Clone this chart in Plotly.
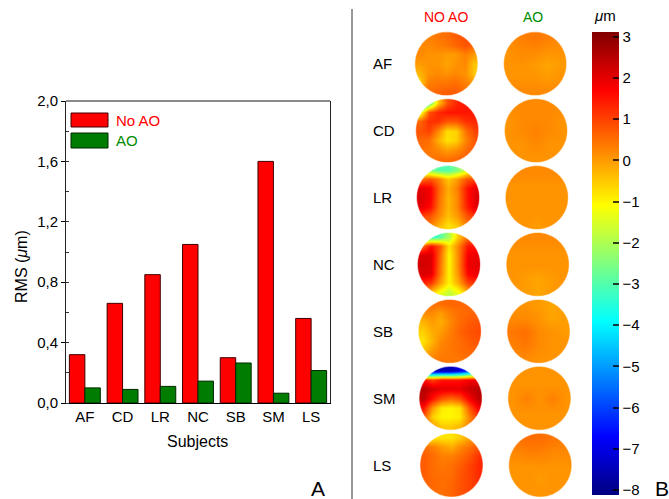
import numpy as np
import plotly.graph_objects as go

W, H = 669, 499

# ---- panel A: RMS of the wavefront error per subject ----
subjects = ["AF", "CD", "LR", "NC", "SB", "SM", "LS"]
rms_no_ao = [0.32, 0.66, 0.85, 1.05, 0.30, 1.60, 0.56]
rms_ao = [0.10, 0.09, 0.11, 0.145, 0.265, 0.065, 0.215]
rms_ticks = [0.0, 0.4, 0.8, 1.2, 1.6, 2.0]

# ---- panel B: wavefront maps (µm), coarse grids, top row first ----
wf_no_ao = {
    "AF": [[0.3, 0.3, 0.4, 0.5, 0.7, 0.8, 0.8],
           [0.2, 0.2, 0.3, 0.4, 0.6, 0.8, 0.6],
           [0.2, 0.1, 0.1, 0.0, 0.0, 0.3, 0.0],
           [0.0, 0.1, 0.1, -0.1, 0.1, 0.2, -0.5],
           [-0.3, 0.1, 0.2, 0.1, 0.2, 0.1, -0.5],
           [-0.6, 0.3, 0.4, 0.4, 0.5, 0.3, 0.0],
           [0.3, 0.5, 0.6, 0.7, 0.7, 0.5, 0.3]],
    "CD": [[-5.0, -3.0, -0.5, 0.8, 1.3, 1.5, 1.5],
           [-1.5, 0.8, 1.3, 1.5, 1.5, 1.5, 1.5],
           [0.6, 1.2, 1.2, 0.8, 0.8, 1.2, 1.3],
           [0.8, 1.0, 0.2, -0.7, -0.6, 0.5, 1.0],
           [0.6, 0.5, -0.2, -0.8, -0.6, 0.3, 0.8],
           [0.5, 0.4, 0.2, -0.1, 0.1, 0.5, 0.8],
           [0.4, 0.4, 0.5, 0.5, 0.6, 0.7, 0.7]],
    "LR": [[-2.0, -2.5, -3.0, -3.0, -2.5, -1.5, -0.5],
           [0.5, 0.8, 0.3, -0.5, 0.0, 0.8, 1.0],
           [2.0, 1.8, 0.6, -0.2, 0.3, 1.5, 2.0],
           [2.1, 1.8, 0.5, -0.3, 0.2, 1.5, 2.1],
           [2.0, 1.6, 0.4, -0.3, 0.2, 1.4, 2.0],
           [1.0, 0.8, 0.2, -0.4, 0.0, 0.8, 1.2],
           [0.3, 0.3, -0.3, -0.8, -0.5, 0.3, 0.5]],
    "NC": [[-3.5, -3.5, -3.0, -2.0, -0.5, 0.5, 0.5],
           [0.5, 1.6, 0.8, -0.8, 0.2, 1.5, 1.5],
           [2.1, 2.1, 0.6, -1.0, 0.2, 1.8, 1.9],
           [2.2, 2.1, 0.5, -1.0, 0.2, 1.9, 2.0],
           [2.1, 2.0, 0.4, -1.0, 0.1, 1.7, 1.9],
           [1.4, 1.1, 0.0, -1.0, -0.2, 1.0, 1.2],
           [0.0, -0.5, -1.3, -1.8, -1.3, -0.3, 0.0]],
    "SB": [[0.5, 0.5, 0.5, 0.6, 0.6, 0.6, 0.5],
           [0.2, 0.2, 0.0, 0.3, 0.5, 0.6, 0.6],
           [-0.3, 0.0, -0.2, 0.2, 0.5, 0.7, 0.8],
           [-0.6, -0.2, 0.0, 0.3, 0.6, 0.8, 0.9],
           [-0.8, -0.3, 0.2, 0.4, 0.5, 0.7, 0.8],
           [-0.5, 0.0, 0.3, 0.4, 0.5, 0.6, 0.6],
           [0.2, 0.3, 0.4, 0.4, 0.4, 0.5, 0.5]],
    "SM": [[-7.5, -7.5, -7.5, -7.5, -7.0, -6.0, -5.0],
           [1.5, 1.0, 1.5, 1.5, 1.5, 1.8, 1.8],
           [2.5, 2.2, 2.0, 2.0, 2.0, 2.3, 2.5],
           [2.4, 1.5, 0.8, 0.5, 0.8, 1.8, 2.4],
           [1.5, 0.0, -0.9, -1.0, -0.8, 0.8, 1.8],
           [0.8, -0.6, -1.0, -1.0, -0.9, 0.3, 1.2],
           [0.5, 0.0, -0.5, -0.5, -0.3, 0.3, 0.8]],
    "LS": [[-0.8, -0.8, -0.8, -0.8, -0.5, 0.0, 0.3],
           [0.5, 0.3, 0.0, -0.2, 0.2, 0.5, 0.8],
           [0.7, 0.5, 0.3, 0.3, 0.5, 0.8, 1.2],
           [0.7, 0.5, 0.4, 0.5, 0.7, 1.0, 1.3],
           [0.7, 0.5, 0.5, 0.5, 0.8, 1.0, 1.3],
           [0.6, 0.6, 0.5, 0.6, 0.8, 1.0, 1.2],
           [0.5, 0.5, 0.5, 0.6, 0.8, 1.0, 1.0]],
}
wf_ao = {
    "AF": [[0.2, 0.3, 0.4, 0.3, 0.2],
           [0.1, 0.2, 0.2, 0.1, 0.1],
           [0.1, 0.1, 0.0, -0.1, 0.0],
           [0.1, 0.1, 0.1, 0.0, 0.1],
           [0.2, 0.2, 0.2, 0.2, 0.2]],
    "CD": [[0.2, 0.2, 0.2, 0.2, 0.2],
           [0.1, 0.2, 0.2, 0.2, 0.1],
           [0.1, 0.2, 0.3, 0.2, 0.1],
           [0.1, 0.1, 0.2, 0.1, 0.1],
           [0.1, 0.1, 0.1, 0.1, 0.1]],
    "LR": [[0.2, 0.2, 0.2, 0.2, 0.2],
           [0.1, 0.1, 0.1, 0.1, 0.1],
           [0.1, 0.1, 0.1, 0.1, 0.1],
           [0.1, 0.1, 0.1, 0.1, 0.1],
           [0.1, 0.1, 0.0, 0.1, 0.1]],
    "NC": [[0.2, 0.2, 0.2, 0.2, 0.2],
           [0.1, 0.1, 0.1, 0.1, 0.1],
           [0.1, 0.1, 0.1, 0.1, 0.1],
           [0.1, 0.0, -0.1, 0.0, 0.1],
           [0.1, 0.0, -0.1, 0.0, 0.1]],
    "SB": [[0.1, 0.1, 0.0, -0.1, 0.0],
           [0.2, 0.2, 0.1, -0.1, 0.0],
           [0.4, 0.5, 0.2, 0.1, 0.0],
           [0.3, 0.4, 0.2, 0.1, 0.1],
           [0.2, 0.2, 0.1, 0.1, 0.1]],
    "SM": [[0.1, 0.1, 0.1, 0.1, 0.1],
           [0.1, 0.1, 0.1, 0.1, 0.1],
           [0.1, 0.3, 0.1, 0.3, 0.1],
           [0.1, 0.1, 0.1, 0.1, 0.1],
           [0.1, 0.1, 0.1, 0.1, 0.1]],
    "LS": [[0.4, 0.5, 0.5, 0.4, 0.3],
           [0.2, 0.3, 0.3, 0.2, 0.2],
           [0.1, 0.1, 0.1, 0.1, 0.1],
           [0.1, 0.1, 0.0, 0.1, 0.1],
           [0.1, 0.1, 0.1, 0.1, 0.1]],
}
cbar_ticks = list(range(-8, 4))


def fx(p):
    return p / W


def fy(p):
    return 1 - p / H


FONT = "Arial, Liberation Sans, sans-serif"
RED = "rgb(255,0,0)"
GREEN = "rgb(0,125,0)"
TXT_GREEN = "rgb(0,140,0)"

jet = [[0.0, "rgb(0,0,128)"], [0.125, "rgb(0,0,255)"], [0.375, "rgb(0,255,255)"],
       [0.625, "rgb(255,255,0)"], [0.875, "rgb(255,0,0)"], [1.0, "rgb(128,0,0)"]]

fig = go.Figure()

fig.add_trace(go.Bar(x=subjects, y=rms_no_ao, name="No AO", xaxis="x", yaxis="y",
                     marker=dict(color=RED, line=dict(color="#400000", width=1)),
                     showlegend=False))
fig.add_trace(go.Bar(x=subjects, y=rms_ao, name="AO", xaxis="x", yaxis="y",
                     marker=dict(color=GREEN, line=dict(color="#002800", width=1)),
                     showlegend=False))

# pupil maps on a grid axis: columns (No AO, AO) x rows (subjects)
rx, ry = 0.356, 0.478
shear = 0.0096
shapes = []
t = np.linspace(0, 2 * np.pi, 97)
for r, s in enumerate(subjects):
    for c, grid in enumerate([wf_no_ao[s], wf_ao[s]]):
        z = np.array(grid, dtype=float)
        nr, nc = z.shape
        cx, cy = c + shear * r, r
        ex, ey = rx * 1.02, ry * 1.02
        xs = cx - ex + (np.arange(nc) + 0.5) * 2 * ex / nc
        ys = cy - ey + (np.arange(nr) + 0.5) * 2 * ey / nr
        fig.add_trace(go.Heatmap(x=xs, y=ys, z=z, coloraxis="coloraxis", zsmooth="best",
                                 xaxis="x2", yaxis="y2", hoverinfo="skip", showscale=False))
        # white frame with a round hole to clip the map to the pupil
        mx, my = rx * 1.05, ry * 1.05
        path = (f"M{cx - mx},{cy - my} L{cx + mx},{cy - my} L{cx + mx},{cy + my} "
                f"L{cx - mx},{cy + my} Z ")
        pts = [f"{cx + rx * np.cos(a):.5f},{cy - ry * np.sin(a):.5f}" for a in t]
        path += "M" + " L".join(pts) + " Z"
        shapes.append(dict(type="path", path=path, xref="x2", yref="y2", fillrule="evenodd",
                           fillcolor="white", line=dict(color="rgba(255,255,255,0.55)", width=1.2)))

# frame details of panel A
shapes.append(dict(type="line", xref="x domain", yref="y domain", x0=0, x1=1, y0=1, y1=1,
                   line=dict(color="#8a8a8a", width=2)))
# legend swatches
shapes.append(dict(type="rect", xref="paper", yref="paper", x0=fx(71), x1=fx(108),
                   y0=fy(127), y1=fy(113), fillcolor=RED, line=dict(color="#400000", width=1)))
shapes.append(dict(type="rect", xref="paper", yref="paper", x0=fx(71), x1=fx(108),
                   y0=fy(148), y1=fy(133), fillcolor=GREEN, line=dict(color="#002800", width=1)))
# panel divider
shapes.append(dict(type="line", xref="paper", yref="paper", x0=fx(352), x1=fx(352),
                   y0=0, y1=fy(9), line=dict(color="#333333", width=1)))


def note(text, x, y, size=15, color="black", xanchor="center", **kw):
    d = dict(text=text, x=x, y=y, xref="paper", yref="paper", showarrow=False,
             xanchor=xanchor, yanchor="middle",
             font=dict(family=FONT, size=size, color=color))
    d.update(kw)
    return d


annotations = [
    note("RMS (<i>μ</i>m)", fx(21), fy(267), size=16, textangle=-90),
    note("Subjects", fx(197), fy(441), size=16),
    note("A", fx(318), fy(488), size=21),
    note("B", fx(662), fy(488), size=21),
    note("No AO", fx(114), fy(120), size=15, color=RED, xanchor="left"),
    note("AO", fx(114), fy(140), size=15, color=TXT_GREEN, xanchor="left"),
    note("NO AO", fx(446), fy(17), size=14, color=RED),
    note("AO", fx(533), fy(17), size=14, color=TXT_GREEN),
    note("<i>μ</i>m", fx(605), fy(15), size=15),
]
for r, s in enumerate(subjects):
    annotations.append(dict(text=s, x=fx(371), y=r, xref="paper", yref="y2", showarrow=False,
                            xanchor="left", yanchor="middle",
                            font=dict(family=FONT, size=15, color="black")))

fig.update_layout(
    width=W, height=H,
    margin=dict(l=0, r=0, t=0, b=0, pad=0, autoexpand=False),
    paper_bgcolor="white", plot_bgcolor="white",
    font=dict(family=FONT, size=15, color="black"),
    separators=",.",
    barmode="group", bargap=0.18, bargroupgap=0.0,
    xaxis=dict(domain=[fx(66), fx(330)], range=[-0.5, 6.5], anchor="y",
               showline=True, linecolor="black", linewidth=1, ticks="",
               showgrid=False, zeroline=False, tickfont=dict(size=15)),
    yaxis=dict(domain=[fy(403), fy(101)], range=[0, 2.0], anchor="x",
               tickvals=rms_ticks, tickformat=".1f", ticks="outside", ticklen=4,
               tickcolor="black", showline=True, mirror=True, linecolor="#222222",
               linewidth=1, showgrid=False, zeroline=False, tickfont=dict(size=15),
               minor=dict(dtick=0.2, ticks="inside", ticklen=3, tickcolor="#333333")),
    xaxis2=dict(domain=[fx(402), fx(579.5)], range=[-0.5, 1.5], anchor="y2",
                visible=False, fixedrange=True),
    yaxis2=dict(domain=[fy(498.6), fy(30.25)], range=[6.5, -0.5], anchor="x2",
                visible=False, fixedrange=True),
    coloraxis=dict(
        colorscale=jet, cmin=-8.12, cmax=3.12,
        colorbar=dict(x=fx(592), xanchor="left", y=fy(263.4), yanchor="middle",
                      len=463, lenmode="pixels", thickness=27, thicknessmode="pixels",
                      xpad=0, ypad=0, outlinewidth=0, tickvals=cbar_ticks,
                      ticks="inside", ticklen=6, tickwidth=1.5,
                      tickcolor="rgba(0,0,0,0.75)", tickfont=dict(family=FONT, size=15))),
    shapes=shapes,
    annotations=annotations,
)

fig.write_html("out.html")
